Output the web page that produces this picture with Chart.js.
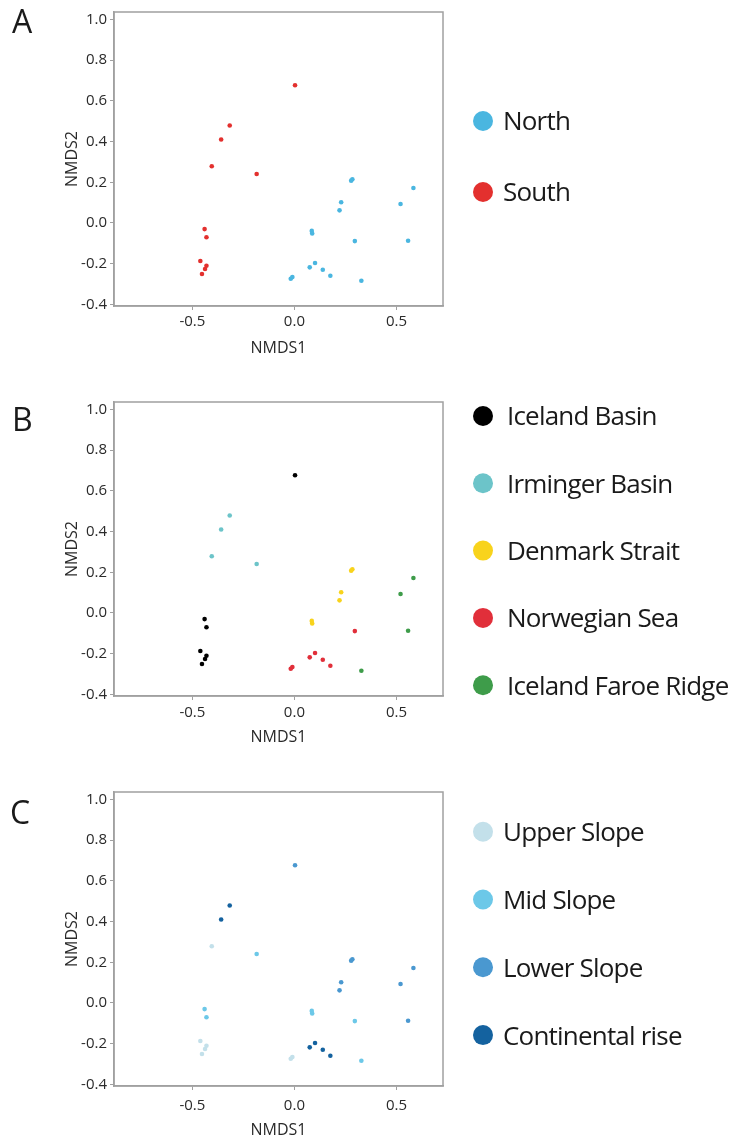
<!DOCTYPE html>
<html>
<head>
<meta charset="utf-8">
<script src="https://cdn.jsdelivr.net/npm/chart.js@4.4.1/dist/chart.umd.min.js"></script>
<style>
  html, body { margin: 0; padding: 0; background: #fff; overflow: hidden; }
  .panel { position: absolute; left: 0; }
</style>
</head>
<body>
<canvas id="chartA" class="panel" width="740" height="366" style="top:0px"></canvas>
<canvas id="chartB" class="panel" width="740" height="366" style="top:390px"></canvas>
<canvas id="chartC" class="panel" width="740" height="360" style="top:780px"></canvas>
<script>
// NMDS coordinates of the 28 samples (same ordination in all three panels)
const nmds1 = [0.003, -0.317, -0.359, -0.405, -0.185, -0.440, -0.431, -0.461, -0.431, -0.438, -0.453,
               0.284, 0.278, 0.583, 0.229, 0.221, 0.520, 0.085, 0.087, 0.296, 0.557,
               0.101, 0.075, 0.139, 0.176, 0.328, -0.010, -0.018];
const nmds2 = [0.677, 0.479, 0.410, 0.279, 0.241, -0.030, -0.070, -0.187, -0.210, -0.226, -0.251,
               0.215, 0.208, 0.172, 0.102, 0.062, 0.093, -0.039, -0.052, -0.089, -0.087,
               -0.197, -0.218, -0.230, -0.259, -0.284, -0.266, -0.274];

// A: region
const regionNames = ['North', 'South'];
const regionColors = ['#4ab6e0', '#e3302e'];
const regionOfSample = [1, 1, 1, 1, 1, 1, 1, 1, 1, 1, 1,
                        0, 0, 0, 0, 0, 0, 0, 0, 0, 0, 0, 0, 0, 0, 0, 0, 0];

// B: area
const areaNames = ['Iceland Basin', 'Irminger Basin', 'Denmark Strait', 'Norwegian Sea', 'Iceland Faroe Ridge'];
const areaColors = ['#000000', '#6cc4c9', '#f8d31c', '#e12f3a', '#3e9c4a'];
const areaOfSample = [0, 1, 1, 1, 1, 0, 0, 0, 0, 0, 0,
                      2, 2, 4, 2, 2, 4, 2, 2, 3, 4, 3, 3, 3, 3, 4, 3, 3];

// C: depth zone
const zoneNames = ['Upper Slope', 'Mid Slope', 'Lower Slope', 'Continental rise'];
const zoneColors = ['#c3e0ea', '#6cc8e8', '#4a98d0', '#14629f'];
const zoneOfSample = [2, 3, 3, 0, 1, 1, 1, 0, 0, 0, 0,
                      2, 2, 2, 2, 2, 2, 1, 1, 1, 2, 3, 3, 3, 3, 1, 0, 0];

const xTicksStep = 0.5;
const yTicksStep = 0.2;

const axisGrey = '#a0a0a0';
Chart.defaults.font.family = "'Open Sans', sans-serif";

function fmt(v) {
  return (Math.abs(v) < 1e-9 ? 0 : v).toFixed(1);
}

// box around the plot, panel letter and the legend on the right
const panelDecor = {
  id: 'panelDecor',
  beforeDatasetsDraw(chart) {
    const a = chart.chartArea, ctx = chart.ctx;
    ctx.save();
    ctx.strokeStyle = axisGrey;
    ctx.lineWidth = 1.5;
    ctx.strokeRect(a.left, a.top, a.right - a.left, a.bottom - a.top);
    ctx.restore();
  },
  afterDraw(chart, args, opts) {
    const ctx = chart.ctx;
    ctx.save();
    ctx.fillStyle = '#1a1a1a';
    ctx.textBaseline = 'alphabetic';
    ctx.font = "32px 'Open Sans'";
    ctx.fillText(opts.letter, opts.letterX, opts.letterY);

    ctx.font = "26px 'Open Sans'";
    ctx.letterSpacing = '-0.8px';
    ctx.textBaseline = 'middle';
    const cx = chart.chartArea.right + opts.legendGap;
    chart.data.datasets.forEach(function (ds, i) {
      const cy = opts.legendTop + i * opts.legendStep;
      ctx.fillStyle = ds.backgroundColor;
      ctx.beginPath();
      ctx.arc(cx, cy, 10, 0, Math.PI * 2);
      ctx.fill();
      ctx.fillStyle = '#1a1a1a';
      ctx.fillText(ds.label, cx + opts.textGap, cy + 2);
    });
    ctx.restore();
  }
};

function makePanel(canvasId, names, colors, groupOf, look) {
  const datasets = names.map(function (name, g) {
    const pts = [];
    groupOf.forEach(function (grp, i) {
      if (grp === g) pts.push({ x: nmds1[i], y: nmds2[i] });
    });
    return {
      label: name,
      data: pts,
      backgroundColor: colors[g],
      borderWidth: 0,
      pointRadius: 2.3,
      pointHoverRadius: 2.3
    };
  });

  return new Chart(document.getElementById(canvasId), {
    type: 'scatter',
    data: { datasets: datasets },
    options: {
      responsive: false,
      animation: false,
      events: [],
      layout: { padding: { left: 55, right: 297, top: 12, bottom: 0 } },
      plugins: {
        legend: { display: false },
        tooltip: { enabled: false },
        panelDecor: look
      },
      scales: {
        x: {
          type: 'linear',
          min: -0.884,
          max: 0.728,
          ticks: { stepSize: xTicksStep, includeBounds: false, padding: look.xTickPad, color: '#2a2a2a', font: { size: 15 }, callback: fmt },
          grid: { drawOnChartArea: false, tickLength: 4, color: axisGrey },
          border: { color: axisGrey, width: 1.5 },
          title: { display: true, text: 'NMDS1', color: '#2a2a2a', font: { size: 16 }, padding: { top: 0, bottom: look.xTitlePad } },
          afterFit: function (scale) { scale.height = look.xAxisHeight; }
        },
        y: {
          min: -0.408,
          max: 1.037,
          ticks: { stepSize: yTicksStep, includeBounds: false, padding: 3, color: '#2a2a2a', font: { size: 15 }, callback: fmt },
          grid: { drawOnChartArea: false, tickLength: 4, color: axisGrey },
          border: { color: axisGrey, width: 1.5 },
          title: { display: true, text: 'NMDS2', color: '#2a2a2a', font: { size: 16 }, padding: { top: 8, bottom: 0 } },
          afterFit: function (scale) { scale.width = 59; }
        }
      }
    },
    plugins: [panelDecor]
  });
}

makePanel('chartA', regionNames, regionColors, regionOfSample, {
  letter: 'A', letterX: 12, letterY: 33,
  legendGap: 40, legendTop: 121, legendStep: 71, textGap: 20,
  xAxisHeight: 60, xTickPad: 3, xTitlePad: 8
});

makePanel('chartB', areaNames, areaColors, areaOfSample, {
  letter: 'B', letterX: 12, letterY: 41,
  legendGap: 40, legendTop: 26, legendStep: 67.3, textGap: 24,
  xAxisHeight: 60, xTickPad: 4, xTitlePad: 9
});

makePanel('chartC', zoneNames, zoneColors, zoneOfSample, {
  letter: 'C', letterX: 10, letterY: 43.5,
  legendGap: 40, legendTop: 51.7, legendStep: 67.8, textGap: 20,
  xAxisHeight: 54, xTickPad: 7, xTitlePad: 0
});
</script>
</body>
</html>
